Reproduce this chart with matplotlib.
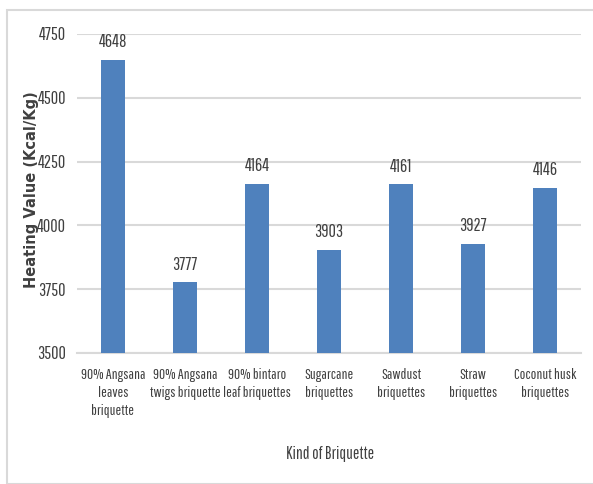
import matplotlib
matplotlib.use("Agg")
import matplotlib.pyplot as plt
from matplotlib.patches import Rectangle
from matplotlib import font_manager
from matplotlib.font_manager import FontProperties
from matplotlib.textpath import TextPath

categories = [
    "90% Angsana\nleaves\nbriquette",
    "90% Angsana\ntwigs briquette",
    "90% bintaro\nleaf briquettes",
    "Sugarcane\nbriquettes",
    "Sawdust\nbriquettes",
    "Straw\nbriquettes",
    "Coconut husk\nbriquettes",
]
values = [4648, 3777, 4164, 3903, 4161, 3927, 4146]
yticks = [3500, 3750, 4000, 4250, 4500, 4750]

# Pick a condensed face: size it so the widest label line is ~70 px wide,
# then prefer the face whose capital height at that size is closest to 11 px.
installed = {f.name for f in font_manager.fontManager.ttflist}
candidates = ["Pathway Gothic One", "Saira Extra Condensed", "Saira Condensed",
              "Fira Sans Extra Condensed", "Encode Sans Compressed", "Encode Sans Condensed",
              "PT Sans Narrow", "Open Sans Condensed", "IBM Plex Sans Condensed",
              "Barlow Condensed", "Asap Condensed", "Archivo Narrow", "Roboto Condensed"]
best = None
for fam in candidates:
    if fam not in installed:
        continue
    prop = FontProperties(family=fam)
    w = TextPath((0, 0), "twigs briquette", size=10, prop=prop).get_extents().width
    size = 10 * (70 * 0.72) / w
    cap = TextPath((0, 0), "H", size=size, prop=prop).get_extents().height / 0.72
    score = abs(cap - 11)
    if best is None or score < best[0]:
        best = (score, fam, size)
if best is None:
    best = (0, "DejaVu Sans", 9)
_, narrow, fs = best
fs = min(fs, 14)
fs_num = fs * 1.2

text_color = "#404040"

fig = plt.figure(figsize=(5.93, 4.84), dpi=100)
fig.patches.append(Rectangle((7 / 593, 0), 2.0, (484 - 10) / 484,
                             transform=fig.transFigure, fill=False,
                             edgecolor="#D9D9D9", linewidth=1.5))

ax = fig.add_axes([77 / 593, 1 - 353 / 484, 504 / 593, (353 - 34) / 484])
x = range(len(categories))
ax.bar(x, values, width=0.32, color="#4F81BD", zorder=3)
ax.set_ylim(3500, 4750)
ax.set_xlim(-0.5, len(categories) - 0.5)
ax.set_yticks(yticks)
ax.set_xticks(list(x))
ax.set_xticklabels(categories, fontfamily=narrow, fontsize=fs, color=text_color,
                   linespacing=1.35)
for lab in ax.get_yticklabels():
    lab.set_fontfamily(narrow)
    lab.set_fontsize(fs_num)
    lab.set_color(text_color)
ax.grid(axis="y", color="#D9D9D9", linewidth=1.5, zorder=0)
ax.tick_params(axis="both", length=0)
ax.tick_params(axis="x", pad=11)
ax.tick_params(axis="y", pad=8)
for s in ["top", "right", "left"]:
    ax.spines[s].set_visible(False)
ax.spines["bottom"].set_color("#D9D9D9")
ax.spines["bottom"].set_linewidth(1.5)

for xi, v in zip(x, values):
    ax.annotate(str(v), (xi, v), xytext=(0, 7), textcoords="offset points",
                ha="center", va="bottom", fontfamily=narrow, fontsize=fs_num,
                color=text_color)

fig.text(32 / 593, 1 - 190 / 484, "Heating Value (Kcal/Kg)", rotation=90,
         ha="center", va="center", fontsize=10.5, fontweight="bold",
         color=text_color, fontfamily="DejaVu Sans")
fig.text(330 / 593, 1 - 454 / 484, "Kind of Briquette", ha="center", va="center",
         fontfamily=narrow, fontsize=fs * 1.15, color=text_color)

fig.savefig("out.png", dpi=100)
